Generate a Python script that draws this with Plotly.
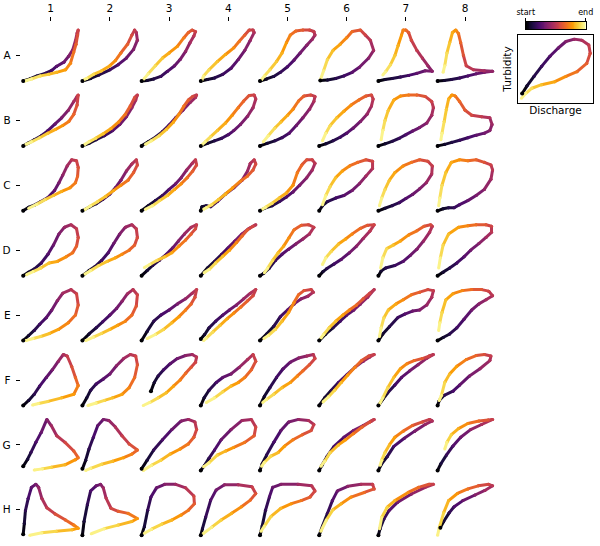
import plotly.graph_objects as go
from plotly.colors import sample_colorscale

# event grid labels
ROWS = ['A', 'B', 'C', 'D', 'E', 'F', 'G', 'H']
COLS = ['1', '2', '3', '4', '5', '6', '7', '8']

# normalised (discharge, turbidity) readings per event, in time order
A1 = [(0, 0), (0.12, 0.04), (0.25, 0.10), (0.40, 0.15), (0.52, 0.21), (0.61, 0.29), (0.74, 0.37), (0.83, 0.49), (0.90, 0.61), (0.95, 0.79), (0.98, 0.94), (1.0, 1.0), (0.99, 0.90), (0.96, 0.72), (0.92, 0.57), (0.86, 0.35), (0.77, 0.22), (0.61, 0.17), (0.46, 0.13), (0.31, 0.10), (0.15, 0.04), (0.03, 0.0)]
A2 = [(0, 0), (0.15, 0.05), (0.3, 0.12), (0.5, 0.22), (0.65, 0.32), (0.8, 0.45), (0.93, 0.62), (1.0, 0.8), (0.98, 0.95), (0.95, 1.0), (0.9, 0.9), (0.82, 0.72), (0.7, 0.55), (0.6, 0.4), (0.5, 0.3), (0.35, 0.2), (0.2, 0.13), (0.08, 0.05), (0.02, 0.02)]
A3 = [(0, 0), (0.1, 0.01), (0.22, 0.04), (0.35, 0.09), (0.47, 0.19), (0.6, 0.3), (0.7, 0.42), (0.8, 0.58), (0.88, 0.75), (0.95, 0.88), (0.98, 0.97), (0.92, 1.0), (0.85, 0.95), (0.77, 0.85), (0.65, 0.68), (0.5, 0.55), (0.38, 0.45), (0.25, 0.3), (0.12, 0.14), (0.04, 0.04)]
A4 = [(0, 0), (0.12, 0.03), (0.25, 0.06), (0.4, 0.13), (0.55, 0.25), (0.68, 0.42), (0.8, 0.6), (0.9, 0.8), (0.97, 0.95), (0.95, 1.0), (0.88, 1.0), (0.8, 0.9), (0.7, 0.78), (0.6, 0.65), (0.45, 0.52), (0.3, 0.38), (0.15, 0.22), (0.05, 0.1), (0.02, 0.02)]
A5 = [(0, 0), (0.12, 0.04), (0.25, 0.09), (0.37, 0.17), (0.5, 0.28), (0.62, 0.41), (0.73, 0.55), (0.85, 0.7), (0.95, 0.82), (1.0, 0.9), (0.98, 0.97), (0.9, 1.0), (0.78, 1.0), (0.65, 0.98), (0.55, 0.9), (0.48, 0.75), (0.4, 0.55), (0.3, 0.38), (0.18, 0.22), (0.08, 0.1), (0.03, 0.03)]
A6 = [(0.02, 0.01), (0.15, 0.02), (0.3, 0.05), (0.45, 0.1), (0.6, 0.17), (0.73, 0.27), (0.9, 0.45), (0.99, 0.6), (0.93, 0.8), (0.84, 0.9), (0.75, 1.0), (0.6, 0.97), (0.5, 0.85), (0.38, 0.72), (0.25, 0.6), (0.15, 0.42), (0.08, 0.2), (0.03, 0.05)]
A7 = [(0, 0), (0.12, 0.03), (0.25, 0.05), (0.4, 0.08), (0.55, 0.11), (0.7, 0.15), (0.85, 0.2), (0.98, 0.19), (0.9, 0.3), (0.8, 0.45), (0.7, 0.6), (0.6, 0.8), (0.55, 0.95), (0.5, 1.0), (0.45, 1.0), (0.42, 0.9), (0.36, 0.7), (0.3, 0.5), (0.22, 0.32), (0.13, 0.18), (0.08, 0.12)]
A8 = [(0, 0), (0.12, 0.01), (0.25, 0.03), (0.4, 0.06), (0.55, 0.1), (0.7, 0.14), (0.85, 0.17), (1.0, 0.19), (0.85, 0.2), (0.65, 0.22), (0.52, 0.3), (0.47, 0.5), (0.42, 0.75), (0.38, 0.93), (0.33, 1.0), (0.27, 0.95), (0.22, 0.75), (0.17, 0.55), (0.13, 0.3), (0.1, 0.17)]

B1 = [(0, 0), (0.1, 0.06), (0.2, 0.12), (0.33, 0.2), (0.45, 0.3), (0.58, 0.43), (0.7, 0.55), (0.82, 0.7), (0.92, 0.87), (0.98, 0.97), (1.0, 1.0), (0.98, 0.8), (0.92, 0.62), (0.83, 0.48), (0.72, 0.4), (0.58, 0.32), (0.45, 0.25), (0.3, 0.16), (0.15, 0.08), (0.05, 0.03)]
B2 = [(0, 0), (0.12, 0.05), (0.25, 0.12), (0.4, 0.2), (0.55, 0.3), (0.68, 0.42), (0.8, 0.57), (0.9, 0.75), (0.97, 0.9), (1.0, 1.0), (0.95, 0.95), (0.87, 0.78), (0.78, 0.62), (0.66, 0.47), (0.52, 0.34), (0.38, 0.24), (0.24, 0.15), (0.12, 0.08), (0.03, 0.02)]
B3 = [(0, 0), (0.12, 0.08), (0.25, 0.17), (0.38, 0.28), (0.5, 0.41), (0.62, 0.55), (0.75, 0.7), (0.88, 0.85), (0.98, 0.95), (1.0, 1.0), (0.93, 0.97), (0.85, 0.9), (0.77, 0.78), (0.68, 0.62), (0.58, 0.47), (0.45, 0.32), (0.32, 0.2), (0.18, 0.1), (0.07, 0.03)]
B4 = [(0, 0), (0.12, 0.05), (0.25, 0.1), (0.38, 0.15), (0.5, 0.22), (0.6, 0.3), (0.72, 0.42), (0.85, 0.58), (0.95, 0.75), (1.0, 0.92), (0.97, 1.0), (0.88, 0.99), (0.78, 0.88), (0.68, 0.75), (0.57, 0.6), (0.45, 0.45), (0.3, 0.3), (0.18, 0.18), (0.08, 0.08), (0.02, 0.02)]
B5 = [(0, 0), (0.13, 0.05), (0.27, 0.1), (0.4, 0.16), (0.53, 0.25), (0.66, 0.4), (0.78, 0.55), (0.9, 0.72), (0.98, 0.87), (1.0, 0.97), (0.92, 1.0), (0.8, 0.98), (0.7, 0.88), (0.6, 0.72), (0.5, 0.6), (0.38, 0.47), (0.27, 0.35), (0.15, 0.2), (0.06, 0.08)]
B6 = [(0, 0), (0.12, 0.04), (0.25, 0.1), (0.38, 0.17), (0.5, 0.25), (0.62, 0.35), (0.75, 0.48), (0.87, 0.62), (0.95, 0.78), (0.98, 0.92), (0.95, 1.0), (0.85, 0.98), (0.72, 0.9), (0.58, 0.8), (0.45, 0.68), (0.32, 0.55), (0.2, 0.4), (0.12, 0.25), (0.06, 0.1)]
B7 = [(0, 0), (0.12, 0.04), (0.25, 0.09), (0.38, 0.15), (0.5, 0.22), (0.62, 0.29), (0.75, 0.36), (0.88, 0.45), (0.97, 0.6), (1.0, 0.75), (0.97, 0.87), (0.85, 0.97), (0.7, 1.0), (0.55, 1.0), (0.4, 0.98), (0.28, 0.9), (0.18, 0.7), (0.12, 0.5), (0.08, 0.3), (0.05, 0.12)]
B8 = [(0, 0), (0.13, 0.03), (0.26, 0.07), (0.4, 0.11), (0.55, 0.16), (0.7, 0.21), (0.85, 0.25), (0.95, 0.3), (0.99, 0.42), (0.95, 0.55), (0.8, 0.57), (0.62, 0.6), (0.5, 0.7), (0.4, 0.87), (0.32, 0.98), (0.26, 1.0), (0.2, 0.92), (0.16, 0.72), (0.12, 0.48), (0.08, 0.25), (0.06, 0.12)]

C1 = [(0, 0), (0.1, 0.07), (0.2, 0.11), (0.32, 0.18), (0.45, 0.26), (0.57, 0.4), (0.65, 0.55), (0.72, 0.7), (0.8, 0.88), (0.88, 1.0), (0.97, 0.98), (1.0, 0.85), (0.99, 0.68), (0.95, 0.55), (0.85, 0.45), (0.7, 0.38), (0.55, 0.3), (0.4, 0.22), (0.25, 0.13), (0.1, 0.05)]
C2 = [(0, 0), (0.12, 0.07), (0.25, 0.14), (0.37, 0.22), (0.5, 0.33), (0.6, 0.45), (0.7, 0.6), (0.8, 0.78), (0.9, 0.92), (0.98, 1.0), (1.0, 0.9), (0.93, 0.75), (0.83, 0.6), (0.7, 0.5), (0.57, 0.4), (0.42, 0.28), (0.28, 0.18), (0.15, 0.1), (0.04, 0.02)]
C3 = [(0, 0), (0.12, 0.1), (0.25, 0.2), (0.38, 0.3), (0.5, 0.42), (0.62, 0.53), (0.72, 0.65), (0.82, 0.8), (0.92, 0.93), (0.98, 1.0), (1.0, 0.9), (0.93, 0.78), (0.83, 0.65), (0.72, 0.53), (0.6, 0.42), (0.47, 0.3), (0.33, 0.2), (0.2, 0.1), (0.07, 0.03)]
C4 = [(0, 0), (0.02, 0.08), (0.1, 0.1), (0.18, 0.08), (0.3, 0.18), (0.45, 0.33), (0.6, 0.45), (0.75, 0.6), (0.85, 0.78), (0.9, 0.93), (0.97, 1.0), (1.0, 0.92), (0.95, 0.8), (0.85, 0.68), (0.72, 0.58), (0.58, 0.45), (0.45, 0.33), (0.32, 0.22), (0.2, 0.12), (0.1, 0.06), (0.05, 0.03)]
C5 = [(0, 0), (0.1, 0.06), (0.22, 0.1), (0.35, 0.18), (0.48, 0.27), (0.6, 0.37), (0.72, 0.5), (0.85, 0.65), (0.95, 0.8), (1.0, 0.93), (0.95, 1.0), (0.85, 1.0), (0.76, 0.9), (0.68, 0.75), (0.6, 0.5), (0.48, 0.35), (0.35, 0.25), (0.22, 0.15), (0.1, 0.07), (0.04, 0.03)]
C6 = [(0, 0), (0.06, 0.1), (0.15, 0.18), (0.3, 0.25), (0.45, 0.3), (0.6, 0.4), (0.73, 0.53), (0.85, 0.68), (0.97, 0.83), (0.97, 0.97), (0.85, 1.0), (0.7, 0.95), (0.55, 0.88), (0.42, 0.78), (0.3, 0.65), (0.2, 0.48), (0.12, 0.3), (0.06, 0.12)]
C7 = [(0, 0), (0.12, 0.05), (0.25, 0.1), (0.38, 0.16), (0.5, 0.24), (0.62, 0.32), (0.75, 0.43), (0.87, 0.55), (0.97, 0.72), (0.98, 0.88), (0.9, 0.97), (0.75, 1.0), (0.6, 0.95), (0.45, 0.88), (0.3, 0.75), (0.2, 0.6), (0.12, 0.42), (0.06, 0.25), (0.02, 0.1)]
C8 = [(0, 0), (0.1, 0.04), (0.2, 0.06), (0.3, 0.06), (0.4, 0.12), (0.55, 0.2), (0.7, 0.3), (0.85, 0.42), (0.97, 0.62), (1.0, 0.8), (0.97, 0.9), (0.85, 0.95), (0.7, 1.0), (0.55, 0.98), (0.4, 1.0), (0.25, 0.95), (0.15, 0.75), (0.08, 0.5), (0.04, 0.25), (0.02, 0.1)]

D1 = [(0, 0), (0.1, 0.07), (0.2, 0.13), (0.33, 0.25), (0.45, 0.42), (0.55, 0.6), (0.65, 0.82), (0.75, 0.95), (0.87, 1.0), (0.97, 0.92), (1.0, 0.75), (0.97, 0.58), (0.9, 0.45), (0.78, 0.37), (0.62, 0.28), (0.47, 0.25), (0.32, 0.15), (0.18, 0.08), (0.06, 0.02)]
D2 = [(0, 0), (0.12, 0.1), (0.23, 0.18), (0.35, 0.3), (0.47, 0.45), (0.57, 0.63), (0.68, 0.82), (0.78, 0.95), (0.9, 1.0), (0.98, 0.92), (1.0, 0.75), (0.95, 0.6), (0.85, 0.5), (0.72, 0.42), (0.6, 0.35), (0.45, 0.28), (0.3, 0.2), (0.15, 0.1), (0.04, 0.03)]
D3 = [(0, 0), (0.1, 0.1), (0.2, 0.2), (0.32, 0.3), (0.45, 0.42), (0.57, 0.55), (0.67, 0.68), (0.78, 0.82), (0.9, 0.95), (1.0, 1.0), (0.98, 0.92), (0.9, 0.82), (0.8, 0.7), (0.68, 0.58), (0.55, 0.45), (0.42, 0.37), (0.28, 0.3), (0.15, 0.22), (0.05, 0.16)]
D4 = [(0, 0), (0.12, 0.15), (0.25, 0.28), (0.38, 0.42), (0.5, 0.55), (0.62, 0.68), (0.75, 0.82), (0.88, 0.93), (1.0, 1.0), (0.95, 0.97), (0.85, 0.9), (0.75, 0.78), (0.65, 0.65), (0.52, 0.5), (0.4, 0.38), (0.27, 0.25), (0.15, 0.12), (0.06, 0.06)]
D5 = [(0, 0), (0.07, 0.05), (0.17, 0.15), (0.28, 0.3), (0.4, 0.42), (0.52, 0.52), (0.65, 0.62), (0.78, 0.72), (0.9, 0.82), (0.98, 0.95), (0.88, 1.0), (0.75, 0.99), (0.62, 0.9), (0.53, 0.75), (0.43, 0.58), (0.33, 0.45), (0.23, 0.3), (0.14, 0.15), (0.08, 0.06)]
D6 = [(0, 0), (0.07, 0.08), (0.14, 0.14), (0.27, 0.23), (0.4, 0.32), (0.55, 0.45), (0.68, 0.58), (0.8, 0.73), (0.92, 0.87), (1.0, 1.0), (0.88, 0.99), (0.75, 0.93), (0.6, 0.82), (0.48, 0.72), (0.35, 0.62), (0.22, 0.48), (0.12, 0.35), (0.06, 0.22)]
D7 = [(0, 0), (0.05, 0.09), (0.13, 0.15), (0.3, 0.2), (0.45, 0.28), (0.58, 0.4), (0.7, 0.52), (0.82, 0.68), (0.93, 0.85), (0.98, 0.97), (0.95, 1.0), (0.83, 0.97), (0.7, 0.88), (0.55, 0.8), (0.4, 0.68), (0.27, 0.6), (0.15, 0.53), (0.08, 0.35), (0.04, 0.15)]
D8 = [(0, 0), (0.1, 0.07), (0.22, 0.15), (0.35, 0.25), (0.48, 0.37), (0.6, 0.5), (0.75, 0.63), (0.88, 0.75), (0.98, 0.85), (0.98, 0.97), (0.88, 1.0), (0.7, 1.0), (0.55, 0.98), (0.38, 0.95), (0.2, 0.82), (0.1, 0.6), (0.05, 0.35), (0.02, 0.15)]

E1 = [(0, 0), (0.1, 0.1), (0.2, 0.2), (0.3, 0.32), (0.42, 0.45), (0.52, 0.6), (0.62, 0.78), (0.72, 0.93), (0.87, 1.0), (0.97, 0.92), (1.0, 0.7), (0.95, 0.5), (0.82, 0.35), (0.64, 0.22), (0.48, 0.14), (0.32, 0.08), (0.18, 0.04), (0.05, 0.0)]
E2 = [(0, 0), (0.12, 0.13), (0.25, 0.25), (0.37, 0.37), (0.5, 0.5), (0.62, 0.63), (0.72, 0.77), (0.82, 0.92), (0.92, 1.0), (1.0, 0.9), (0.98, 0.68), (0.9, 0.5), (0.78, 0.38), (0.64, 0.3), (0.5, 0.22), (0.35, 0.14), (0.2, 0.07), (0.06, 0.0)]
E3 = [(0, 0), (0.1, 0.18), (0.22, 0.38), (0.35, 0.5), (0.5, 0.6), (0.65, 0.72), (0.8, 0.82), (0.92, 0.93), (1.0, 1.0), (0.97, 0.85), (0.9, 0.72), (0.8, 0.6), (0.68, 0.47), (0.55, 0.35), (0.4, 0.22), (0.25, 0.12), (0.1, 0.04)]
E4 = [(0, 0.03), (0.07, 0.12), (0.15, 0.25), (0.27, 0.38), (0.4, 0.5), (0.52, 0.6), (0.65, 0.7), (0.78, 0.82), (0.9, 0.93), (1.0, 1.0), (0.95, 0.88), (0.85, 0.78), (0.73, 0.66), (0.6, 0.54), (0.48, 0.43), (0.35, 0.3), (0.22, 0.17), (0.1, 0.05), (0.05, 0.0)]
E5 = [(0, 0), (0.12, 0.13), (0.25, 0.28), (0.37, 0.47), (0.5, 0.6), (0.62, 0.72), (0.75, 0.82), (0.87, 0.87), (0.97, 0.95), (0.93, 1.0), (0.8, 0.98), (0.7, 0.9), (0.62, 0.75), (0.52, 0.55), (0.4, 0.38), (0.28, 0.22), (0.15, 0.1), (0.07, 0.04)]
E6 = [(0, 0), (0.12, 0.13), (0.25, 0.25), (0.38, 0.38), (0.5, 0.5), (0.63, 0.6), (0.75, 0.72), (0.88, 0.85), (1.0, 1.0), (0.92, 0.93), (0.8, 0.82), (0.68, 0.7), (0.55, 0.6), (0.43, 0.5), (0.3, 0.38), (0.18, 0.25), (0.08, 0.12), (0.03, 0.05)]
E7 = [(0, 0), (0.08, 0.13), (0.2, 0.27), (0.35, 0.45), (0.48, 0.52), (0.62, 0.58), (0.75, 0.6), (0.88, 0.7), (0.97, 0.85), (1.0, 0.98), (0.9, 1.0), (0.75, 0.95), (0.6, 0.9), (0.45, 0.8), (0.32, 0.72), (0.18, 0.6), (0.1, 0.45), (0.05, 0.25), (0.02, 0.08)]
E8 = [(0, 0), (0.1, 0.06), (0.22, 0.13), (0.35, 0.25), (0.48, 0.42), (0.62, 0.6), (0.75, 0.72), (0.88, 0.8), (1.0, 0.88), (0.93, 0.97), (0.8, 1.0), (0.62, 1.0), (0.45, 0.98), (0.28, 0.92), (0.15, 0.8), (0.08, 0.55), (0.04, 0.35), (0.02, 0.2)]

F1 = [(0, 0), (0.1, 0.1), (0.2, 0.22), (0.3, 0.38), (0.42, 0.55), (0.53, 0.7), (0.64, 0.87), (0.73, 1.0), (0.8, 0.97), (0.88, 0.77), (0.95, 0.55), (1.0, 0.39), (0.92, 0.22), (0.7, 0.15), (0.45, 0.08), (0.28, 0.04), (0.17, 0.01)]
F2 = [(0, 0), (0.08, 0.15), (0.15, 0.3), (0.25, 0.42), (0.38, 0.52), (0.5, 0.62), (0.62, 0.78), (0.75, 0.92), (0.87, 1.0), (0.97, 0.97), (1.0, 0.8), (0.95, 0.55), (0.85, 0.35), (0.72, 0.22), (0.55, 0.15), (0.4, 0.1), (0.25, 0.05), (0.1, 0.0)]
F3 = [(0.17, 0.28), (0.23, 0.45), (0.3, 0.58), (0.4, 0.7), (0.52, 0.82), (0.65, 0.92), (0.8, 0.98), (0.92, 1.0), (1.0, 0.95), (0.98, 0.85), (0.9, 0.75), (0.8, 0.63), (0.7, 0.5), (0.58, 0.38), (0.45, 0.25), (0.3, 0.15), (0.15, 0.06), (0.03, 0.0)]
F4 = [(0, 0), (0.06, 0.15), (0.15, 0.3), (0.28, 0.45), (0.4, 0.55), (0.55, 0.62), (0.7, 0.75), (0.85, 0.9), (0.95, 1.0), (1.0, 0.87), (0.92, 0.7), (0.8, 0.55), (0.68, 0.45), (0.55, 0.38), (0.4, 0.27), (0.25, 0.15), (0.1, 0.06)]
F5 = [(0, 0), (0.08, 0.18), (0.18, 0.35), (0.3, 0.55), (0.42, 0.72), (0.55, 0.85), (0.7, 0.93), (0.85, 0.97), (0.97, 1.0), (1.0, 0.92), (0.9, 0.8), (0.78, 0.68), (0.68, 0.58), (0.55, 0.45), (0.4, 0.35), (0.25, 0.22), (0.12, 0.12), (0.05, 0.06)]
F6 = [(0, 0), (0.1, 0.15), (0.22, 0.3), (0.35, 0.45), (0.5, 0.6), (0.65, 0.75), (0.8, 0.87), (0.92, 0.95), (1.0, 1.0), (0.9, 0.97), (0.77, 0.88), (0.65, 0.75), (0.52, 0.6), (0.4, 0.45), (0.28, 0.3), (0.17, 0.17), (0.07, 0.07)]
F7 = [(0, 0), (0.08, 0.12), (0.17, 0.25), (0.3, 0.4), (0.42, 0.55), (0.57, 0.68), (0.72, 0.8), (0.87, 0.92), (1.0, 1.0), (0.92, 0.97), (0.8, 0.92), (0.65, 0.88), (0.52, 0.82), (0.4, 0.72), (0.28, 0.55), (0.17, 0.35), (0.08, 0.15), (0.02, 0.03)]
F8 = [(0, 0), (0.03, 0.1), (0.12, 0.2), (0.28, 0.28), (0.4, 0.4), (0.58, 0.58), (0.77, 0.72), (0.95, 0.88), (0.97, 0.97), (0.85, 1.0), (0.7, 0.98), (0.52, 0.9), (0.35, 0.77), (0.22, 0.62), (0.13, 0.45), (0.07, 0.2), (0.03, 0.1)]

G1 = [(0, 0.08), (0.08, 0.22), (0.14, 0.35), (0.23, 0.55), (0.33, 0.75), (0.43, 1.0), (0.51, 0.88), (0.61, 0.68), (0.76, 0.55), (0.92, 0.38), (1.0, 0.25), (0.95, 0.21), (0.76, 0.11), (0.51, 0.06), (0.35, 0.03), (0.2, 0.01)]
G2 = [(0, 0.03), (0.06, 0.2), (0.12, 0.42), (0.2, 0.65), (0.28, 0.88), (0.38, 1.0), (0.48, 0.98), (0.6, 0.85), (0.72, 0.68), (0.85, 0.52), (1.0, 0.4), (0.9, 0.32), (0.75, 0.25), (0.55, 0.18), (0.35, 0.12), (0.15, 0.04), (0.06, 0.0)]
G3 = [(0, 0.03), (0.1, 0.2), (0.22, 0.4), (0.38, 0.6), (0.55, 0.8), (0.72, 0.97), (0.85, 1.0), (0.97, 0.95), (1.0, 0.8), (0.95, 0.65), (0.85, 0.52), (0.7, 0.42), (0.52, 0.32), (0.35, 0.2), (0.18, 0.1), (0.03, 0.0)]
G4 = [(0, 0), (0.07, 0.1), (0.15, 0.24), (0.25, 0.4), (0.37, 0.6), (0.55, 0.8), (0.75, 0.98), (0.92, 1.0), (1.0, 0.85), (0.97, 0.68), (0.8, 0.55), (0.6, 0.45), (0.45, 0.38), (0.3, 0.3), (0.15, 0.15), (0.05, 0.07)]
G5 = [(0, 0), (0.04, 0.13), (0.12, 0.3), (0.25, 0.55), (0.38, 0.78), (0.52, 0.95), (0.7, 1.0), (0.88, 0.98), (0.98, 0.9), (0.93, 0.78), (0.77, 0.7), (0.6, 0.6), (0.45, 0.48), (0.33, 0.35), (0.2, 0.28), (0.08, 0.16), (0.03, 0.08)]
G6 = [(0, 0), (0.05, 0.1), (0.14, 0.27), (0.27, 0.47), (0.45, 0.65), (0.62, 0.78), (0.8, 0.88), (0.95, 0.97), (1.0, 1.0), (0.92, 0.95), (0.78, 0.85), (0.62, 0.72), (0.48, 0.6), (0.35, 0.5), (0.2, 0.35), (0.1, 0.18), (0.03, 0.08)]
G7 = [(0, 0), (0.06, 0.13), (0.16, 0.27), (0.28, 0.47), (0.47, 0.63), (0.66, 0.77), (0.85, 0.9), (0.98, 0.97), (0.93, 1.0), (0.8, 0.95), (0.62, 0.88), (0.45, 0.77), (0.3, 0.65), (0.2, 0.5), (0.12, 0.35), (0.06, 0.2), (0.03, 0.1)]
G8 = [(0, 0), (0.06, 0.13), (0.16, 0.3), (0.28, 0.48), (0.42, 0.65), (0.6, 0.8), (0.8, 0.9), (1.0, 1.0), (0.92, 0.99), (0.75, 0.97), (0.55, 0.92), (0.38, 0.82), (0.25, 0.7), (0.17, 0.55), (0.13, 0.42)]

H1 = [(0, 0.02), (0.02, 0.23), (0.04, 0.48), (0.09, 0.72), (0.15, 0.94), (0.23, 1.0), (0.28, 0.94), (0.34, 0.72), (0.43, 0.54), (0.58, 0.42), (0.77, 0.3), (0.92, 0.2), (1.0, 0.14), (0.89, 0.11), (0.6, 0.08), (0.34, 0.05), (0.12, 0.0)]
H2 = [(0, 0), (0.03, 0.27), (0.09, 0.6), (0.15, 0.87), (0.25, 0.97), (0.33, 1.0), (0.38, 0.93), (0.43, 0.73), (0.52, 0.53), (0.65, 0.47), (0.83, 0.43), (1.0, 0.33), (0.9, 0.27), (0.65, 0.2), (0.4, 0.13), (0.16, 0.03)]
H3 = [(0, 0), (0.05, 0.17), (0.11, 0.49), (0.17, 0.75), (0.27, 0.93), (0.42, 1.0), (0.62, 1.0), (0.8, 0.93), (0.95, 0.77), (0.96, 0.62), (0.85, 0.49), (0.72, 0.4), (0.55, 0.3), (0.37, 0.22), (0.18, 0.12), (0.05, 0.04)]
H4 = [(0, 0), (0.03, 0.13), (0.09, 0.36), (0.18, 0.69), (0.28, 0.89), (0.43, 0.99), (0.68, 0.99), (0.93, 0.95), (1.0, 0.82), (0.9, 0.69), (0.74, 0.56), (0.56, 0.43), (0.37, 0.3), (0.2, 0.16), (0.04, 0.03)]
H5 = [(0, 0), (0.04, 0.18), (0.1, 0.49), (0.17, 0.75), (0.23, 0.94), (0.38, 1.0), (0.69, 1.0), (0.94, 0.97), (1.0, 0.87), (0.91, 0.75), (0.75, 0.68), (0.57, 0.62), (0.38, 0.53), (0.2, 0.37), (0.08, 0.18), (0.02, 0.08)]
H6 = [(0, 0), (0.06, 0.18), (0.15, 0.43), (0.24, 0.68), (0.33, 0.87), (0.52, 0.96), (0.76, 1.0), (0.97, 1.0), (1.0, 0.91), (0.82, 0.84), (0.58, 0.75), (0.4, 0.62), (0.25, 0.5), (0.13, 0.3), (0.03, 0.08)]
H7 = [(0, 0), (0.03, 0.13), (0.1, 0.32), (0.19, 0.48), (0.35, 0.65), (0.6, 0.81), (0.85, 0.94), (1.0, 1.0), (0.92, 1.0), (0.73, 0.94), (0.54, 0.84), (0.3, 0.68), (0.16, 0.55), (0.06, 0.35), (0.02, 0.13)]
H8 = [(0.05, 0.15), (0.11, 0.27), (0.21, 0.44), (0.3, 0.56), (0.46, 0.68), (0.68, 0.79), (0.86, 0.88), (1.0, 0.97), (0.93, 1.0), (0.74, 0.97), (0.55, 0.91), (0.36, 0.82), (0.2, 0.68), (0.11, 0.44), (0.03, 0.15), (0.0, 0.0)]

# example loop shown in the key
KEY_LOOP = [(0.01, 0.08), (0.08, 0.21), (0.18, 0.37), (0.29, 0.54), (0.41, 0.71), (0.53, 0.85), (0.64, 0.96), (0.76, 1.0), (0.87, 0.98), (0.97, 0.9), (0.99, 0.76), (0.94, 0.59), (0.8, 0.45), (0.64, 0.37), (0.48, 0.28), (0.29, 0.23), (0.15, 0.17), (0.06, 0.08), (0, 0)]
KEY_STEPS = list(range(64))

# ---- layout, in window pixels ----
W, H = 600, 546
COL_X0, COL_DX = 50.7, 59.2
ROW_Y0, ROW_DY = 55.5, 64.9
LOOP_W, LOOP_H = 55, 51
PAD = 0.05
LINE_W = 3
FONT = 'DejaVu Sans'


def xdom(left, right):
    return [left / W, right / W]


def ydom(top, bottom):
    return [1 - bottom / H, 1 - top / H]


def loop_traces(pts, k):
    xa, ya = f'x{k}', f'y{k}'
    n = len(pts)
    out = []
    for i in range(n - 1):
        col = sample_colorscale('Inferno', [(i + 0.5) / (n - 1)])[0]
        out.append(go.Scatter(x=[pts[i][0], pts[i + 1][0]], y=[pts[i][1], pts[i + 1][1]],
                              mode='lines+markers', line=dict(color=col, width=LINE_W),
                              marker=dict(color=col, size=LINE_W),
                              xaxis=xa, yaxis=ya, hoverinfo='skip', showlegend=False))
    out.append(go.Scatter(x=[pts[0][0]], y=[pts[0][1]], mode='markers',
                          marker=dict(color='#000004', size=4),
                          xaxis=xa, yaxis=ya, hoverinfo='skip', showlegend=False))
    return out


traces = []
layout = dict(width=W, height=H, autosize=False, margin=dict(l=0, r=0, t=0, b=0, pad=0),
              paper_bgcolor='white', plot_bgcolor='rgba(0,0,0,0)',
              font=dict(family=FONT, color='black', size=10), showlegend=False)

hidden = dict(visible=False, showgrid=False, zeroline=False, range=[-PAD, 1 + PAD],
              fixedrange=True, automargin=False)

for r, row in enumerate(ROWS):
    for c, col in enumerate(COLS):
        k = r * 8 + c + 1
        xc = COL_X0 + c * COL_DX
        yc = ROW_Y0 + r * ROW_DY
        hw = LOOP_W * (0.5 + PAD)
        hh = LOOP_H * (0.5 + PAD)
        sfx = '' if k == 1 else str(k)
        layout['xaxis' + sfx] = dict(hidden, domain=xdom(xc - hw, xc + hw), anchor=f'y{k}')
        layout['yaxis' + sfx] = dict(hidden, domain=ydom(yc - hh, yc + hh), anchor=f'x{k}')
        traces += loop_traces(globals()[row + col], k)

# row / column labels on an empty overlay axis
GX0, GX1 = 20.7, 498
GY0, GY1 = 22.3, 543
traces.append(go.Scatter(x=[None], y=[None], xaxis='x65', yaxis='y65', showlegend=False))
layout['xaxis65'] = dict(domain=xdom(GX0, GX1), anchor='y65', side='top', automargin=False,
                         range=[(GX0 - COL_X0) / COL_DX, (GX1 - COL_X0) / COL_DX],
                         tickmode='array', tickvals=list(range(8)), ticktext=COLS,
                         ticks='outside', ticklen=4, tickwidth=1, tickcolor='black',
                         ticklabelstandoff=1,
                         showgrid=False, zeroline=False, showline=False,
                         tickfont=dict(size=10.5), fixedrange=True)
layout['yaxis65'] = dict(domain=ydom(GY0, GY1), anchor='x65', automargin=False,
                         range=[(GY1 - ROW_Y0) / ROW_DY, (GY0 - ROW_Y0) / ROW_DY],
                         tickmode='array', tickvals=list(range(8)), ticktext=ROWS,
                         ticks='outside', ticklen=4, tickwidth=1, tickcolor='black',
                         ticklabelstandoff=3,
                         showgrid=False, zeroline=False, showline=False,
                         tickfont=dict(size=10.5), fixedrange=True)

# key: example loop with axis names
traces += loop_traces(KEY_LOOP, 66)
frame = dict(showline=True, mirror=True, linecolor='black', linewidth=1, automargin=False,
             showgrid=False, zeroline=False, showticklabels=False, ticks='', fixedrange=True)
layout['xaxis66'] = dict(frame, domain=xdom(518, 593), anchor='y66', range=[-0.05, 1.03],
                         title=dict(text='Discharge', standoff=3, font=dict(size=10.5)))
layout['yaxis66'] = dict(frame, domain=ydom(35, 103), anchor='x66', range=[-0.08, 1.07],
                         title=dict(text='Turbidity', standoff=3, font=dict(size=10.5)))

# key: time colour bar
traces.append(go.Heatmap(z=[KEY_STEPS], colorscale='Inferno', showscale=False,
                         xaxis='x67', yaxis='y67', hoverinfo='skip'))
layout['xaxis67'] = dict(frame, domain=xdom(525.7, 585.7), anchor='y67', side='top',
                         range=[-0.5, len(KEY_STEPS) - 0.5], showticklabels=True,
                         tickmode='array', tickvals=[-0.5, len(KEY_STEPS) - 0.5],
                         ticktext=['start', 'end'], ticks='outside', ticklen=3,
                         tickcolor='black', tickfont=dict(size=8))
layout['yaxis67'] = dict(frame, domain=ydom(21.7, 29.3), anchor='x67', range=[-0.5, 0.5])

fig = go.Figure(data=traces, layout=layout)
# the page body has a default 8px margin; drop it so the figure fills the window
fig.write_html('out.html', config={'staticPlot': True, 'displayModeBar': False},
               post_script="document.body.style.margin = '0';")
